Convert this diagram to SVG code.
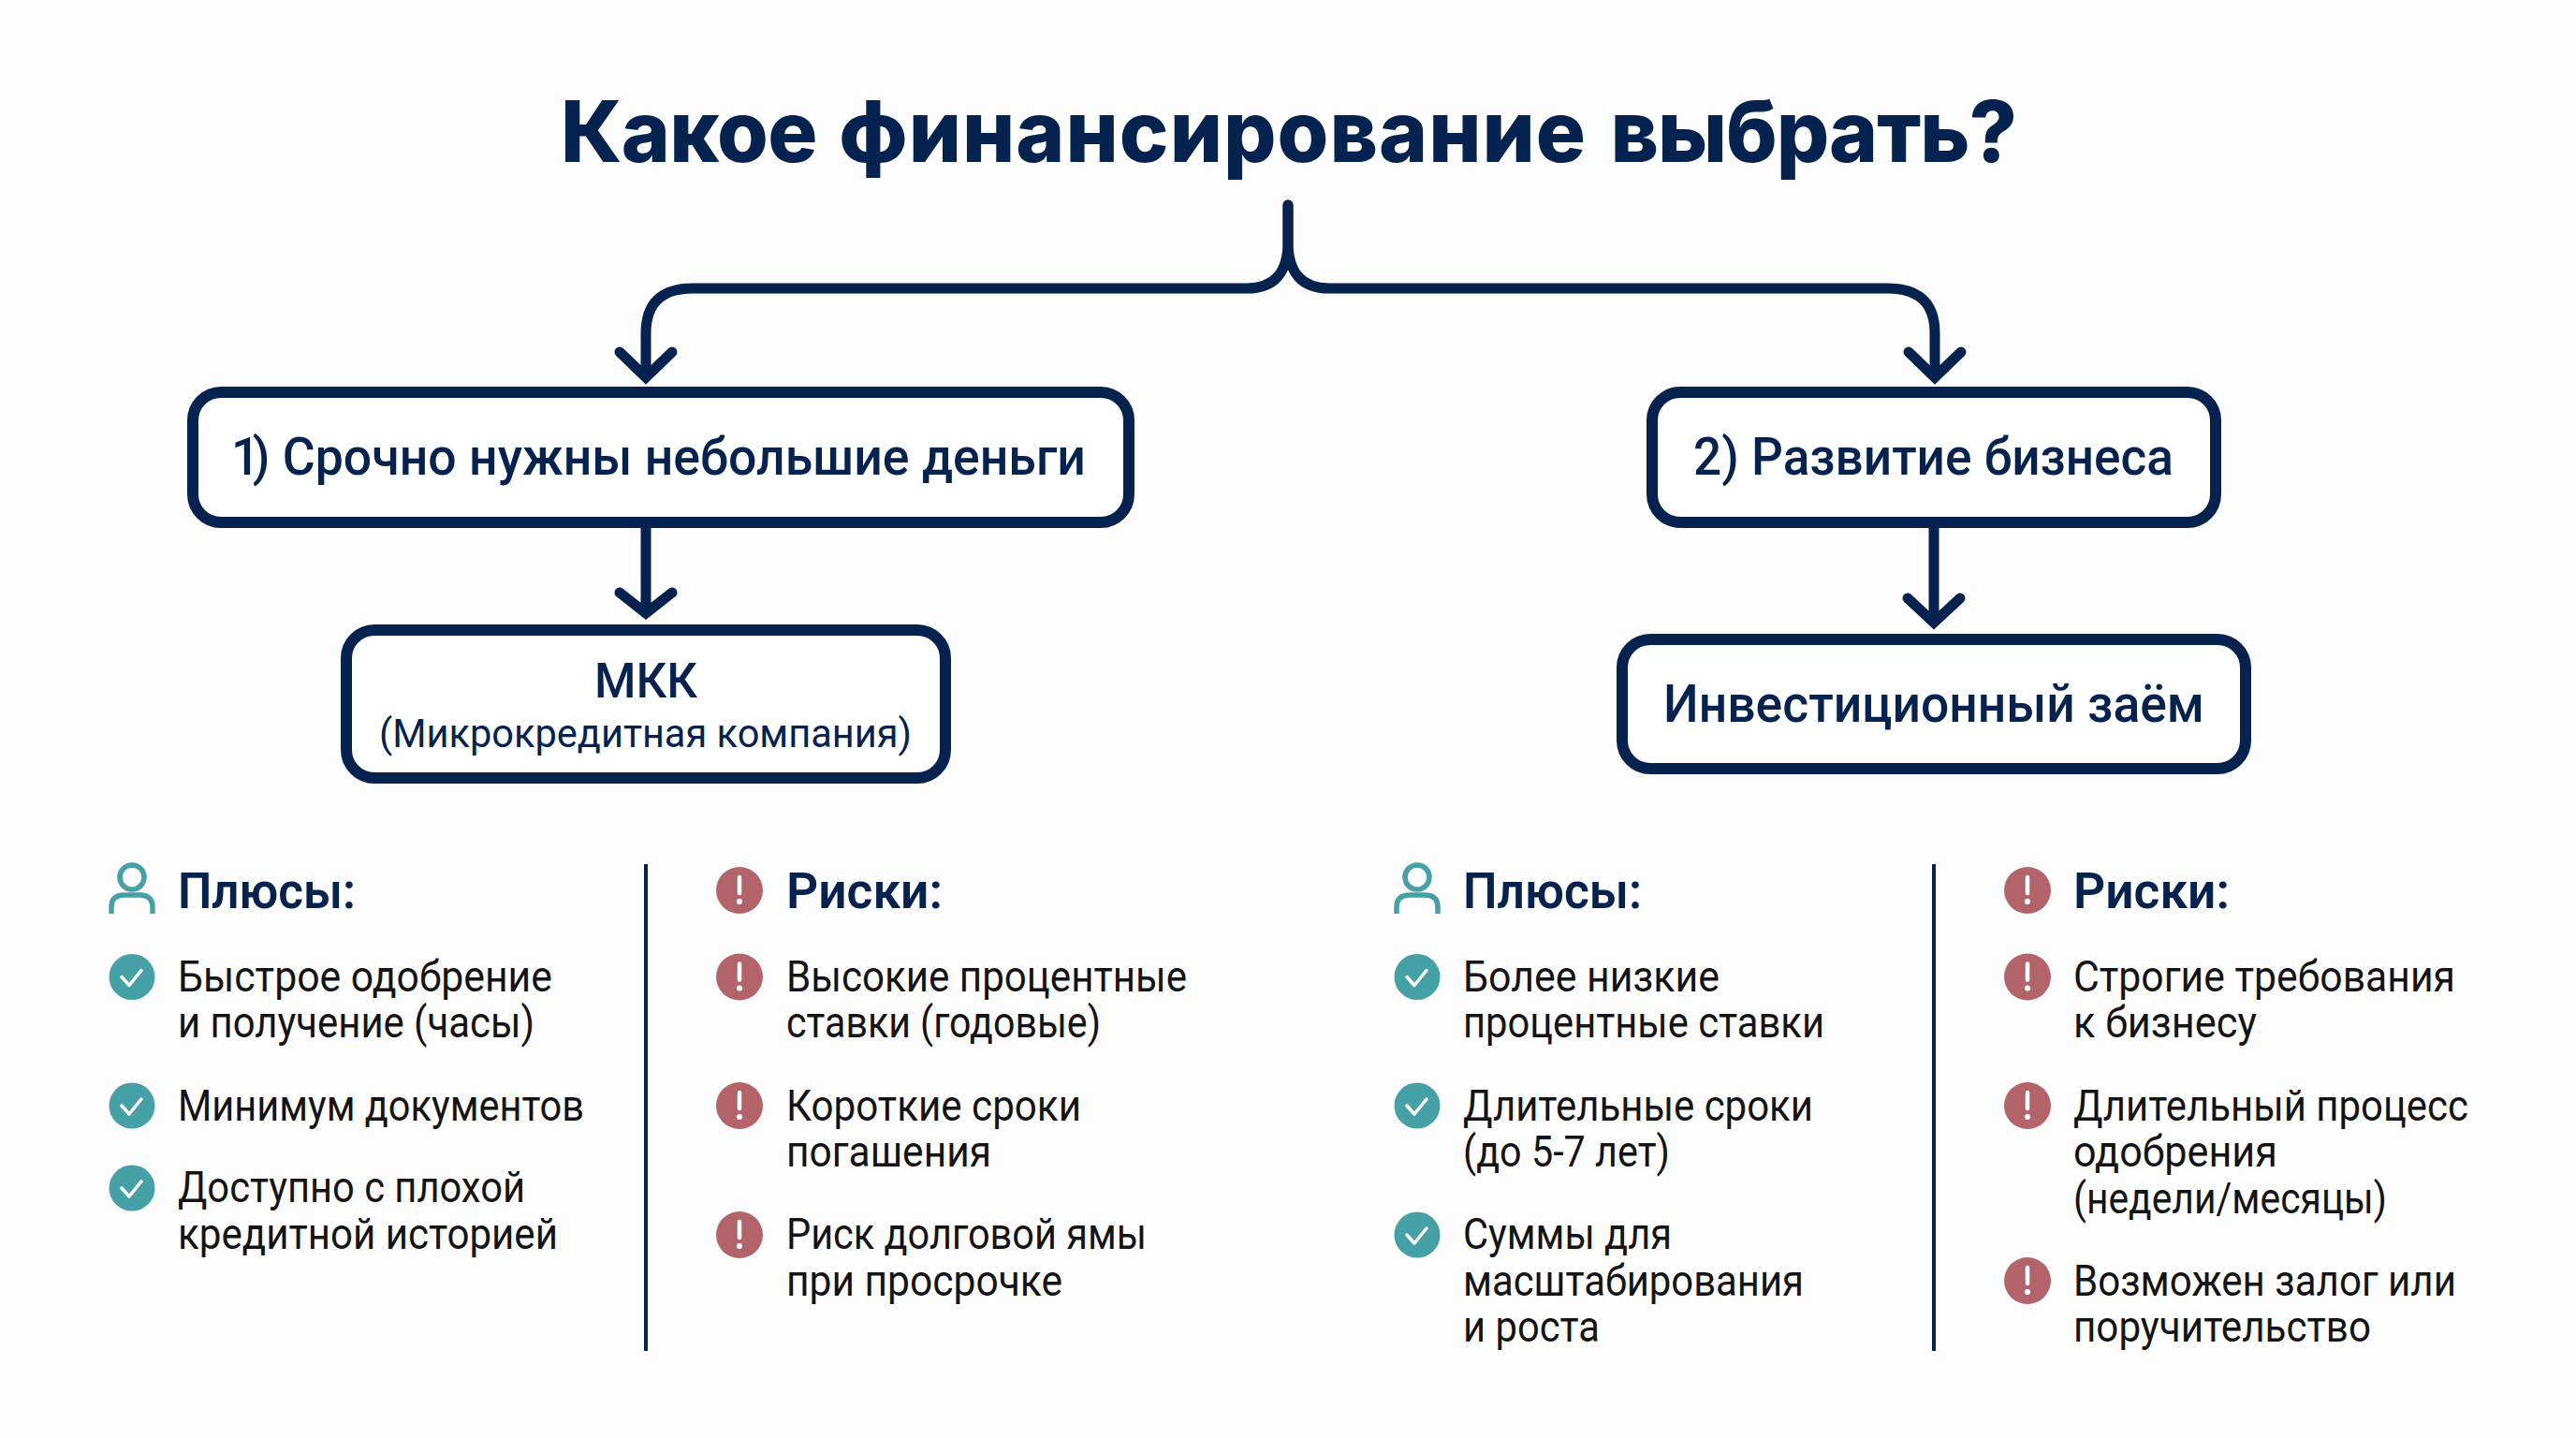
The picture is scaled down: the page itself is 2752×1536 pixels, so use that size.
<svg xmlns="http://www.w3.org/2000/svg" width="2752" height="1536" viewBox="0 0 2752 1536">
<defs>
<style>
text{font-family:"Roboto","Liberation Sans",sans-serif}
.title{font-family:"Inter","Liberation Sans",sans-serif;font-size:91px;font-weight:800;fill:#06234f;word-spacing:5px}
.boxmain{font-size:55px;font-weight:500;fill:#06234f}
.boxtop{font-size:52px;font-weight:500;fill:#06234f}
.boxsub{font-size:43px;font-weight:400;fill:#06234f}
.head{font-size:53px;font-weight:600;fill:#06234f}
.item{font-size:46px;font-weight:400;fill:#141414}
.box{fill:#fff;stroke:#06234f;stroke-width:12}
.conn{fill:none;stroke:#06234f;stroke-width:11;stroke-linecap:round;stroke-linejoin:miter}
.div{stroke:#06234f;stroke-width:4;fill:none}
.teal{fill:#46a1a7}.red{fill:#b3646b}
.tick{fill:none;stroke:#fff;stroke-width:3.5;stroke-linecap:round;stroke-linejoin:round}
.bang{fill:none;stroke:#fff;stroke-width:4.5;stroke-linecap:round}
.dot{fill:#fff}
.person{fill:none;stroke:#46a1a7;stroke-width:5.5}
</style>
<g id="chk"><circle class="teal" r="24.5"/><path class="tick" d="M-11 0L-3 9L10 -7"/></g>
<g id="alr"><circle class="red" r="25"/><path class="bang" d="M0 -14V3"/><circle class="dot" cy="12" r="3"/></g>
<g id="usr"><circle class="person" cy="-14" r="13"/><path class="person" d="M-22 25V18Q-22 5 -8 5H8Q22 5 22 18V25"/></g>
</defs>
<rect width="2752" height="1536" fill="#fdfdfd"/>
<text id="title" class="title" x="599" y="173" textLength="1555" lengthAdjust="spacingAndGlyphs"><tspan letter-spacing="-0.7">Какое </tspan><tspan letter-spacing="1">финансирование </tspan><tspan letter-spacing="-1.1">выбрать?</tspan></text>
<g id="connectors">
<path class="conn" d="M1376 219V258Q1376 308 1332 308H740Q690 308 690 356V402M662 376L690 403L718 376"/>
<path class="conn" d="M1376 219V258Q1376 308 1420 308H2017Q2067 308 2067 356V402M2039 376L2067 403L2095 376"/>
<path class="conn" d="M690 564V653M662 633L690 655L718 633"/>
<path class="conn" d="M2066 564V663M2038 639L2066 665L2094 639"/>
</g>
<g id="node-urgent"><rect class="box" x="206" y="419" width="1000" height="139" rx="30"/><text class="boxmain" x="247" y="507" textLength="913" lengthAdjust="spacingAndGlyphs"><tspan letter-spacing="-8">1</tspan>) Срочно нужны небольшие деньги</text></g>
<g id="node-mkk"><rect class="box" x="370" y="673" width="640" height="158" rx="30"/><text class="boxtop" x="635" y="745" textLength="110" lengthAdjust="spacingAndGlyphs">МКК</text><text class="boxsub" x="405" y="798" textLength="569" lengthAdjust="spacingAndGlyphs">(Микрокредитная компания)</text></g>
<g id="node-growth"><rect class="box" x="1765" y="419" width="602" height="139" rx="30"/><text class="boxmain" x="1809" y="507" textLength="513" lengthAdjust="spacingAndGlyphs">2) Развитие бизнеса</text></g>
<g id="node-loan"><rect class="box" x="1733" y="683" width="666" height="138" rx="30"/><text class="boxmain" x="1777" y="771" textLength="578" lengthAdjust="spacingAndGlyphs">Инвестиционный заём</text></g>
<line class="div" x1="690" y1="923" x2="690" y2="1443"/>
<line class="div" x1="2066" y1="923" x2="2066" y2="1443"/>
<g id="pros-1">
<use href="#usr" x="141" y="951"/>
<text class="head" x="190" y="970" textLength="190" lengthAdjust="spacingAndGlyphs">Плюсы:</text>
<use href="#chk" x="141" y="1043.5"/><use href="#chk" x="141" y="1181"/><use href="#chk" x="141" y="1269"/>
<text class="item" x="190" y="1059" textLength="400" lengthAdjust="spacingAndGlyphs">Быстрое одобрение</text>
<text class="item" x="190" y="1108" textLength="381" lengthAdjust="spacingAndGlyphs">и получение (часы)</text>
<text class="item" x="190" y="1197" textLength="434" lengthAdjust="spacingAndGlyphs">Минимум документов</text>
<text class="item" x="190" y="1284" textLength="371" lengthAdjust="spacingAndGlyphs">Доступно с плохой</text>
<text class="item" x="190" y="1334" textLength="406" lengthAdjust="spacingAndGlyphs">кредитной историей</text>
</g>
<g id="risks-1">
<use href="#alr" x="790" y="951"/>
<text class="head" x="840" y="970" textLength="167" lengthAdjust="spacingAndGlyphs">Риски:</text>
<use href="#alr" x="790" y="1043.5"/><use href="#alr" x="790" y="1181"/><use href="#alr" x="790" y="1319"/>
<text class="item" x="840" y="1059" textLength="428" lengthAdjust="spacingAndGlyphs">Высокие процентные</text>
<text class="item" x="840" y="1108" textLength="336" lengthAdjust="spacingAndGlyphs">ставки (годовые)</text>
<text class="item" x="840" y="1197" textLength="315" lengthAdjust="spacingAndGlyphs">Короткие сроки</text>
<text class="item" x="840" y="1246" textLength="219" lengthAdjust="spacingAndGlyphs">погашения</text>
<text class="item" x="840" y="1334" textLength="385" lengthAdjust="spacingAndGlyphs">Риск долговой ямы</text>
<text class="item" x="840" y="1384" textLength="295" lengthAdjust="spacingAndGlyphs">при просрочке</text>
</g>
<g id="pros-2">
<use href="#usr" x="1514" y="951"/>
<text class="head" x="1563" y="970" textLength="191" lengthAdjust="spacingAndGlyphs">Плюсы:</text>
<use href="#chk" x="1514" y="1043.5"/><use href="#chk" x="1514" y="1181"/><use href="#chk" x="1514" y="1319"/>
<text class="item" x="1563" y="1059" textLength="274" lengthAdjust="spacingAndGlyphs">Более низкие</text>
<text class="item" x="1563" y="1108" textLength="386" lengthAdjust="spacingAndGlyphs">процентные ставки</text>
<text class="item" x="1563" y="1197" textLength="374" lengthAdjust="spacingAndGlyphs">Длительные сроки</text>
<text class="item" x="1563" y="1246" textLength="221" lengthAdjust="spacingAndGlyphs">(до 5-7 лет)</text>
<text class="item" x="1563" y="1334" textLength="223" lengthAdjust="spacingAndGlyphs">Суммы для</text>
<text class="item" x="1563" y="1384" textLength="364" lengthAdjust="spacingAndGlyphs">масштабирования</text>
<text class="item" x="1563" y="1433" textLength="146" lengthAdjust="spacingAndGlyphs">и роста</text>
</g>
<g id="risks-2">
<use href="#alr" x="2166" y="951"/>
<text class="head" x="2215" y="970" textLength="167" lengthAdjust="spacingAndGlyphs">Риски:</text>
<use href="#alr" x="2166" y="1043.5"/><use href="#alr" x="2166" y="1181"/><use href="#alr" x="2166" y="1368"/>
<text class="item" x="2215" y="1059" textLength="408" lengthAdjust="spacingAndGlyphs">Строгие требования</text>
<text class="item" x="2215" y="1108" textLength="196" lengthAdjust="spacingAndGlyphs">к бизнесу</text>
<text class="item" x="2215" y="1197" textLength="422" lengthAdjust="spacingAndGlyphs">Длительный процесс</text>
<text class="item" x="2215" y="1246" textLength="218" lengthAdjust="spacingAndGlyphs">одобрения</text>
<text class="item" x="2215" y="1296" textLength="335" lengthAdjust="spacingAndGlyphs">(недели/месяцы)</text>
<text class="item" x="2215" y="1384" textLength="409" lengthAdjust="spacingAndGlyphs">Возможен залог или</text>
<text class="item" x="2215" y="1433" textLength="318" lengthAdjust="spacingAndGlyphs">поручительство</text>
</g>
</svg>
